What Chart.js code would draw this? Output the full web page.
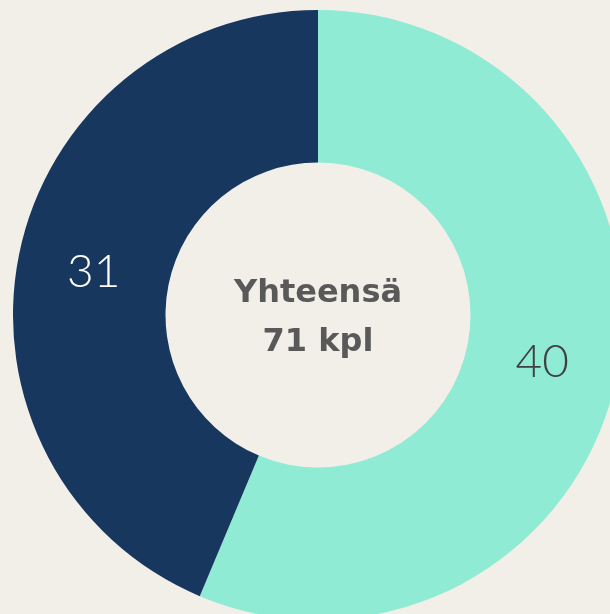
<!DOCTYPE html>
<html>
<head>
<meta charset="utf-8">
<script src="https://cdn.jsdelivr.net/npm/chart.js@4"></script>
<style>
  html, body { margin: 0; padding: 0; background: #F2EFE8; overflow: hidden; }
  body { width: 610px; height: 614px; position: relative; }
  #wrap { position: absolute; left: 13px; top: 10px; width: 610px; height: 610px; }
</style>
</head>
<body>
<div id="wrap"><canvas id="chart"></canvas></div>
<script>
const categories = ["A", "B"]
const values = [40, 31]
const colors = ["#8FEBD3", "#17375E"]
const labelColors = ["#404040", "#FFFFFF"]
const centerLines = ["Yhteensä", "71 kpl"]

// labels on the slices + text in the hole
const sliceLabels = {
    id: "sliceLabels",
    afterDatasetsDraw(chart) {
        const ctx = chart.ctx
        const meta = chart.getDatasetMeta(0)
        ctx.save()
        ctx.textAlign = "center"
        ctx.textBaseline = "middle"
        ctx.font = "300 46px Lato, 'Open Sans', sans-serif"
        meta.data.forEach((arc, i) => {
            const p = arc.tooltipPosition()
            ctx.fillStyle = labelColors[i]
            ctx.fillText(String(values[i]), p.x, p.y + 2)
        })
        const cx = (chart.chartArea.left + chart.chartArea.right) / 2
        const cy = (chart.chartArea.top + chart.chartArea.bottom) / 2
        ctx.fillStyle = "#595959"
        ctx.font = "bold 32px 'DejaVu Sans', sans-serif"
        ctx.textBaseline = "alphabetic"
        ctx.fillText(centerLines[0], cx, cy - 13)
        ctx.fillText(centerLines[1], cx, cy + 36)
        ctx.restore()
    }
}

const chart = new Chart(document.getElementById("chart").getContext("2d"), {
    type: "doughnut",
    data: {
        labels: categories,
        datasets: [{
            data: values,
            backgroundColor: colors,
            borderWidth: 0
        }]
    },
    options: {
        responsive: true,
        maintainAspectRatio: false,
        animation: false,
        cutout: "50%",
        layout: { padding: 0 },
        plugins: {
            legend: { display: false },
            tooltip: { enabled: false }
        }
    },
    plugins: [sliceLabels]
})
</script>
</body>
</html>
